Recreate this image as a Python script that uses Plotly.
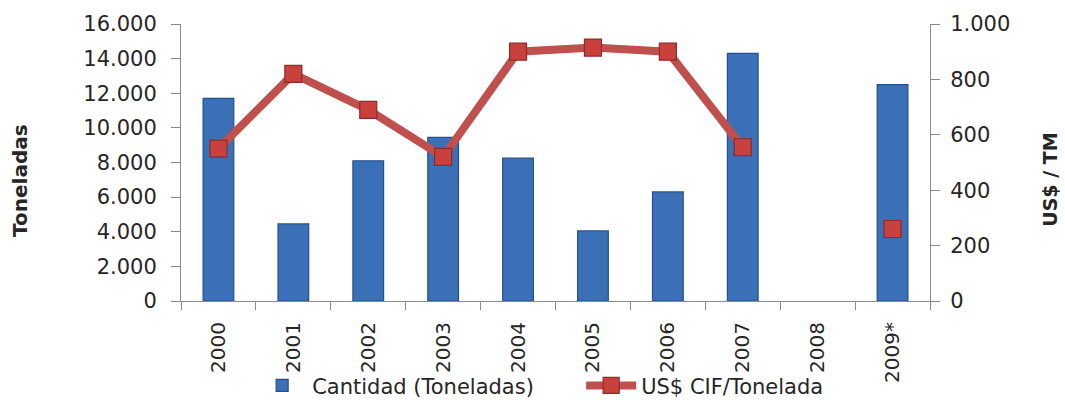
import plotly.graph_objects as go

# Annual imports: quantity (tonnes) and CIF price (US$ per tonne)
years = ["2000", "2001", "2002", "2003", "2004", "2005", "2006", "2007", "2008", "2009*"]
cantidad = [11700, 4450, 8100, 9450, 8250, 4050, 6300, 14300, None, 12500]
precio_cif = [550, 820, 690, 520, 900, 915, 900, 555, None, 260]

left_ticks = [0, 2000, 4000, 6000, 8000, 10000, 12000, 14000, 16000]
right_ticks = [0, 200, 400, 600, 800, 1000]

FONT = "DejaVu Sans"
AXIS_GRAY = "#8a8a8a"
TEXT = "#262626"

fig = go.Figure()

fig.add_trace(go.Bar(
    x=years,
    y=cantidad,
    name="Cantidad (Toneladas)",
    marker=dict(color="#3b70b6", line=dict(color="#24508c", width=1.2)),
    yaxis="y",
))

fig.add_trace(go.Scatter(
    x=years,
    y=precio_cif,
    name="US$ CIF/Tonelada",
    mode="lines+markers",
    line=dict(color="#c0504d", width=8),
    marker=dict(symbol="square", size=17, color="#c9413c",
                line=dict(color="#8e2a27", width=1.2)),
    connectgaps=False,
    yaxis="y2",
))

fig.update_layout(
    width=1065,
    height=400,
    margin=dict(l=181, r=135, t=24, b=99, autoexpand=False),
    paper_bgcolor="white",
    plot_bgcolor="white",
    separators=",.",
    bargap=0.59,
    font=dict(family=FONT, color=TEXT, size=21),
    showlegend=True,
    legend=dict(
        orientation="h",
        x=0.095, xanchor="left",
        y=-0.38, yanchor="bottom",
        font=dict(family=FONT, size=21, color=TEXT),
        bgcolor="rgba(0,0,0,0)",
        itemwidth=50,
        entrywidth=264,
        entrywidthmode="pixels",
        tracegroupgap=0,
    ),
    xaxis=dict(
        type="category",
        categoryorder="array",
        categoryarray=years,
        range=[-0.5, len(years) - 0.5],
        automargin=False,
        showline=True, linecolor=AXIS_GRAY, linewidth=1,
        ticks="outside", tickson="boundaries", ticklen=8, tickcolor=AXIS_GRAY,
        tickangle=-90,
        tickfont=dict(family=FONT, size=20, color=TEXT),
        ticklabelstandoff=12,
        showgrid=False, zeroline=False,
    ),
    yaxis=dict(
        range=[0, 16000],
        tickvals=left_ticks,
        tickformat=",d",
        automargin=False,
        showline=True, linecolor=AXIS_GRAY, linewidth=1,
        ticks="outside", ticklen=9, tickcolor=AXIS_GRAY,
        tickfont=dict(family=FONT, size=21, color=TEXT),
        ticklabelstandoff=10,
        showgrid=False, zeroline=False,
    ),
    yaxis2=dict(
        range=[0, 1000],
        tickvals=right_ticks,
        tickformat=",d",
        overlaying="y",
        side="right",
        automargin=False,
        showline=True, linecolor=AXIS_GRAY, linewidth=1,
        ticks="outside", ticklen=9, tickcolor=AXIS_GRAY,
        tickfont=dict(family=FONT, size=21, color=TEXT),
        ticklabelstandoff=6,
        showgrid=False, zeroline=False,
    ),
    annotations=[
        dict(text="<b>Toneladas</b>", xref="paper", yref="paper",
             x=-0.215, y=0.437, xanchor="center", yanchor="middle",
             textangle=-90, showarrow=False,
             font=dict(family=FONT, size=20, color=TEXT)),
        dict(text="<b>US$ / TM</b>", xref="paper", yref="paper",
             x=1.16, y=0.437, xanchor="center", yanchor="middle",
             textangle=-90, showarrow=False,
             font=dict(family=FONT, size=19, color=TEXT)),
    ],
)

fig.write_html("out.html")
